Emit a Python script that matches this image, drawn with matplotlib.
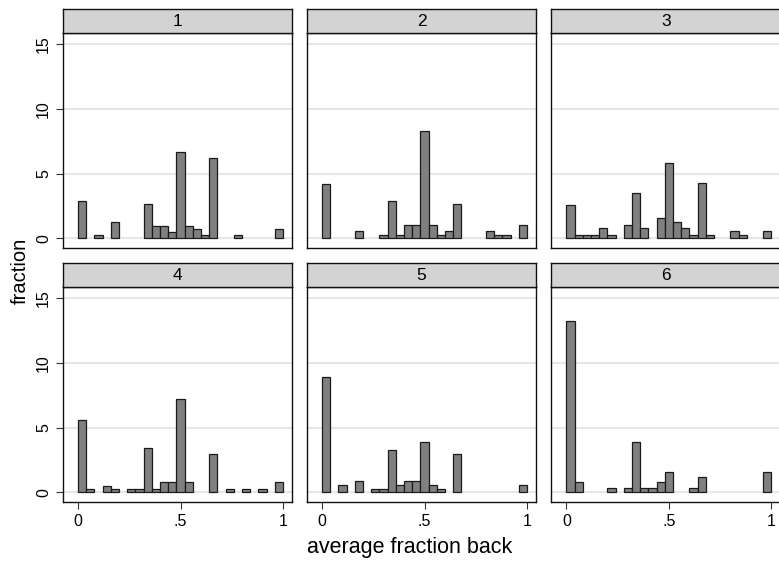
import numpy as np
import matplotlib
matplotlib.use('Agg')
import matplotlib.pyplot as plt

plt.rcParams['font.family'] = ['Liberation Sans', 'DejaVu Sans']

# histogram bins: 25 bins of width .04 from 0 to 1
bin_width = 0.04
bin_left = np.arange(25) * bin_width

groups = ['1', '2', '3', '4', '5', '6']
p1 = [2.87, 0, 0.26, 0, 1.23, 0, 0, 0, 2.64, 0.97, 0.97, 0.51, 6.67, 0.97, 0.74, 0.26, 6.2, 0, 0, 0.26, 0, 0, 0, 0, 0.74]
p2 = [4.2, 0, 0, 0, 0.54, 0, 0, 0.28, 2.9, 0.28, 1.05, 1.05, 8.33, 1.05, 0.28, 0.54, 2.64, 0, 0, 0, 0.54, 0.28, 0.28, 0, 1.05]
p3 = [2.54, 0.28, 0.28, 0.28, 0.79, 0.28, 0, 1.03, 3.54, 0.79, 0, 1.54, 5.82, 1.28, 0.79, 0.28, 4.31, 0.28, 0, 0, 0.54, 0.28, 0, 0, 0.54]
p4 = [5.6, 0.26, 0, 0.52, 0.26, 0, 0.26, 0.26, 3.45, 0.26, 0.78, 0.78, 7.2, 0.78, 0, 0, 2.93, 0, 0.26, 0, 0.26, 0, 0.26, 0, 0.78]
p5 = [8.92, 0, 0.57, 0, 0.91, 0, 0.28, 0.28, 3.29, 0.57, 0.91, 0.91, 3.89, 0.57, 0.28, 0, 2.98, 0, 0, 0, 0, 0, 0, 0, 0.57]
p6 = [13.25, 0.78, 0, 0, 0, 0.36, 0, 0.36, 3.91, 0.36, 0.36, 0.78, 1.55, 0, 0, 0.36, 1.17, 0, 0, 0, 0, 0, 0, 0, 1.55]
panels = [p1, p2, p3, p4, p5, p6]

yticks = [0, 5, 10, 15]
xticks = [0, 0.5, 1]
xticklabels = ['0', '.5', '1']

W, H = 779, 563
fig = plt.figure(figsize=(W / 100, H / 100), dpi=100)

col_left = [62.7, 306.7, 551.0]
panel_w = 229.6
row_top = [33.3, 287.3]
panel_h = 215.0
strip_h = 24.5

for i, vals in enumerate(panels):
    r, c = divmod(i, 3)
    x0 = col_left[c]
    top = row_top[r]
    ax = fig.add_axes([x0 / W, 1 - (top + panel_h) / H, panel_w / W, panel_h / H])
    for y in yticks:
        ax.axhline(y, color='#e4e4e4', lw=1.3, zorder=0)
    vals = np.array(vals)
    keep = vals > 0
    ax.bar(bin_left[keep], vals[keep], width=bin_width, align='edge',
           color='#808080', edgecolor='#1a1a1a', linewidth=0.9, zorder=2)
    ax.set_xlim(-0.075, 1.045)
    ax.set_ylim(-0.77, 15.85)
    for s in ax.spines.values():
        s.set_color('#111111')
        s.set_linewidth(1.0)
    ax.set_yticks(yticks)
    ax.set_xticks(xticks)
    ax.tick_params(direction='out', length=5, width=0.8, color='#333333', labelsize=11.5)
    if c == 0:
        ax.set_yticklabels([str(t) for t in yticks], rotation=90, va='center')
    else:
        ax.tick_params(axis='y', left=False, labelleft=False)
    if r == 1:
        ax.set_xticklabels(xticklabels)
    else:
        ax.tick_params(axis='x', bottom=False, labelbottom=False)

    sax = fig.add_axes([x0 / W, 1 - top / H, panel_w / W, strip_h / H])
    sax.set_facecolor('#d3d3d3')
    sax.set_xticks([])
    sax.set_yticks([])
    for s in sax.spines.values():
        s.set_color('#111111')
        s.set_linewidth(1.0)
    sax.text(0.5, 0.5, groups[i], ha='center', va='center', fontsize=12.5,
             transform=sax.transAxes)

fig.text(20 / W, 1 - 271 / H, 'fraction', rotation=90, ha='center', va='center', fontsize=14.5)
fig.text(410 / W, 1 - 548 / H, 'average fraction back', ha='center', va='center', fontsize=15.5)

fig.savefig('out.png', dpi=100)
